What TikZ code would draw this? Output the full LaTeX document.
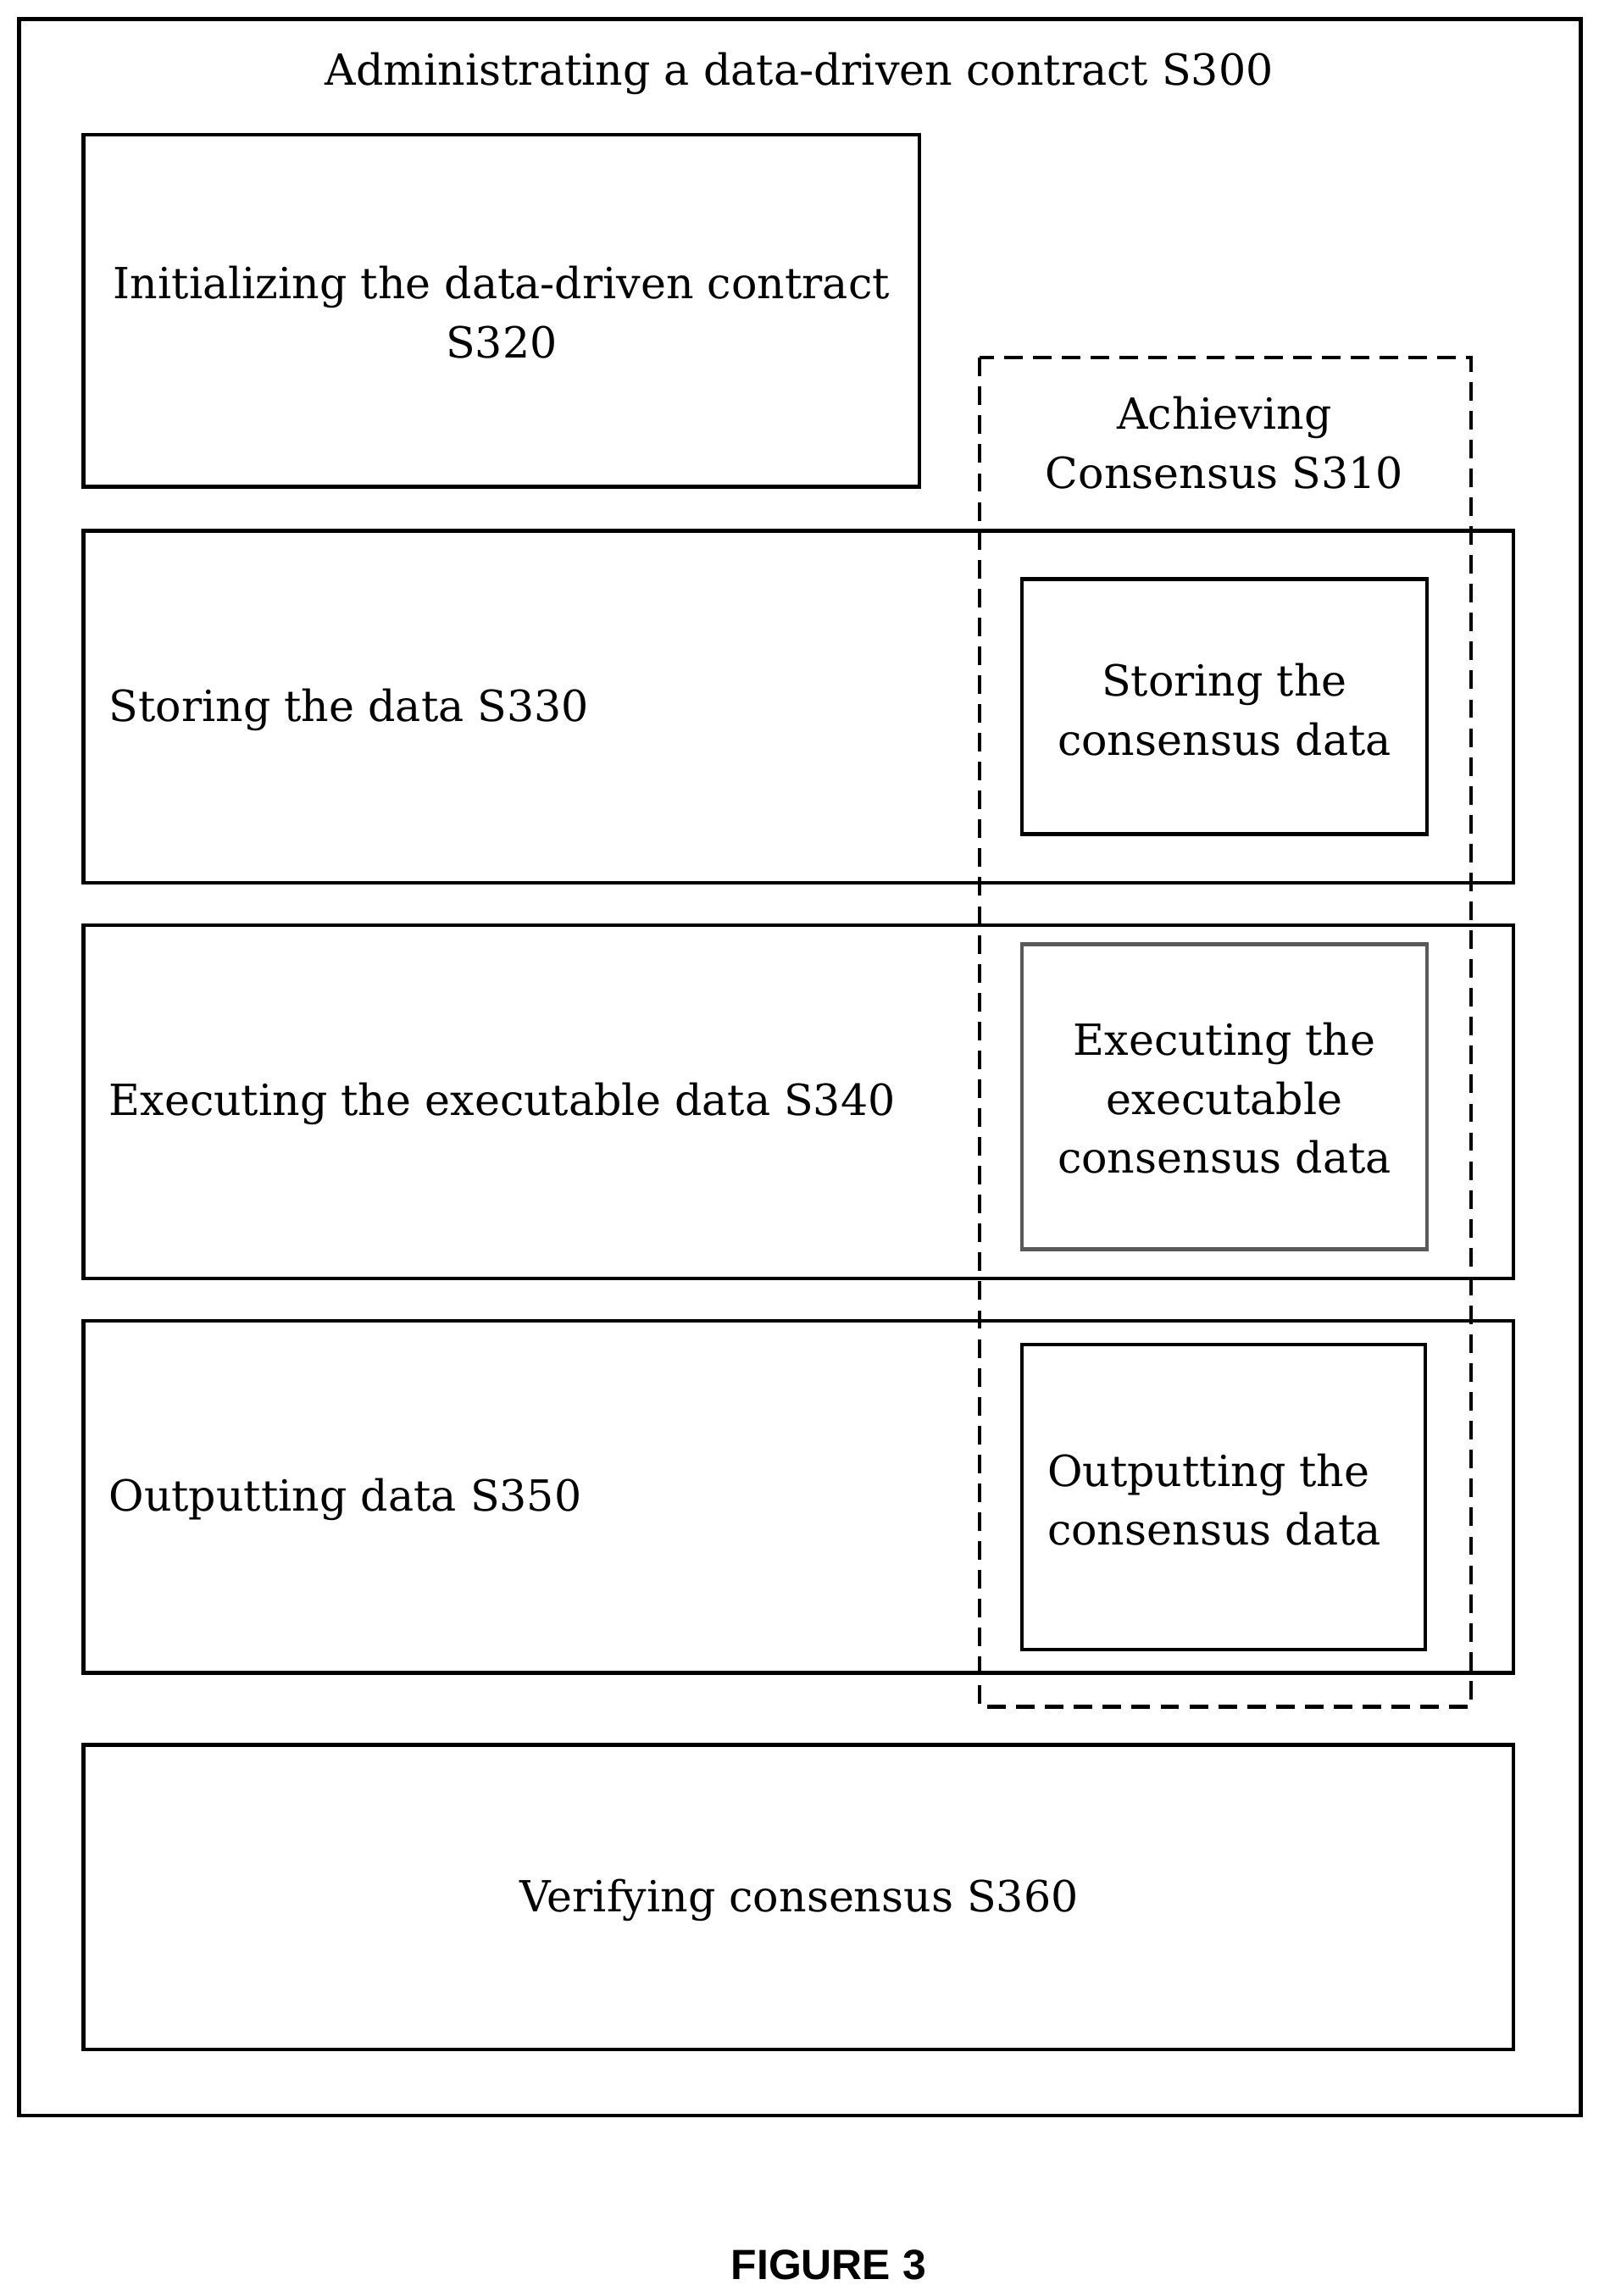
\documentclass[tikz,border=0pt]{standalone}
\usepackage{fontspec}
\setmainfont{DejaVu Serif}
\setsansfont{Liberation Sans}
\begin{document}
\begin{tikzpicture}[x=0.025cm,y=-0.025cm,
 box/.style={draw,line width=1.8pt},
 txt/.style={font=\fontsize{20.8}{28.4}\selectfont,align=center,inner sep=0}]
\useasboundingbox (0,0) rectangle (1090,1566);
\draw[box] (13,13) rectangle (1078,1443);
\node[txt] (title) at (545,50) {Administrating a data-driven contract S300};
\draw[box] (57,92) rectangle (627,332);
\node[txt] (init) at (342,213) {Initializing the data-driven contract\\S320};
\draw[box] (57,362) rectangle (1032,602);
\node[txt,anchor=west] (store) at (74,484) {Storing the data S330};
\draw[box] (57,631) rectangle (1032,872);
\node[txt,anchor=west] (exec) at (74,753) {Executing the executable data S340};
\draw[box] (57,901) rectangle (1032,1141);
\node[txt,anchor=west] (out) at (74,1023) {Outputting data S350};
\draw[box] (57,1190) rectangle (1032,1398);
\node[txt] (ver) at (545,1296) {Verifying consensus S360};
\draw[line width=1.8pt,dash pattern=on 9pt off 5pt] (668,244) rectangle (1003,1164);
\node[txt] (ach) at (835,302) {Achieving\\Consensus S310};
\draw[box] (697,395) rectangle (973,569);
\node[txt] (s1) at (835,484) {Storing the\\consensus data};
\draw[box,draw=gray!70!black] (697,644) rectangle (973,852);
\node[txt] (s2) at (835,749) {Executing the\\executable\\consensus data};
\draw[box] (697,917) rectangle (972,1125);
\node[txt,align=left,anchor=west] (s3) at (714,1023) {Outputting the\\consensus data};
\node[font=\sffamily\bfseries\fontsize{20.5}{24}\selectfont] (fig) at (565,1545) {FIGURE 3};
\end{tikzpicture}
\end{document}
